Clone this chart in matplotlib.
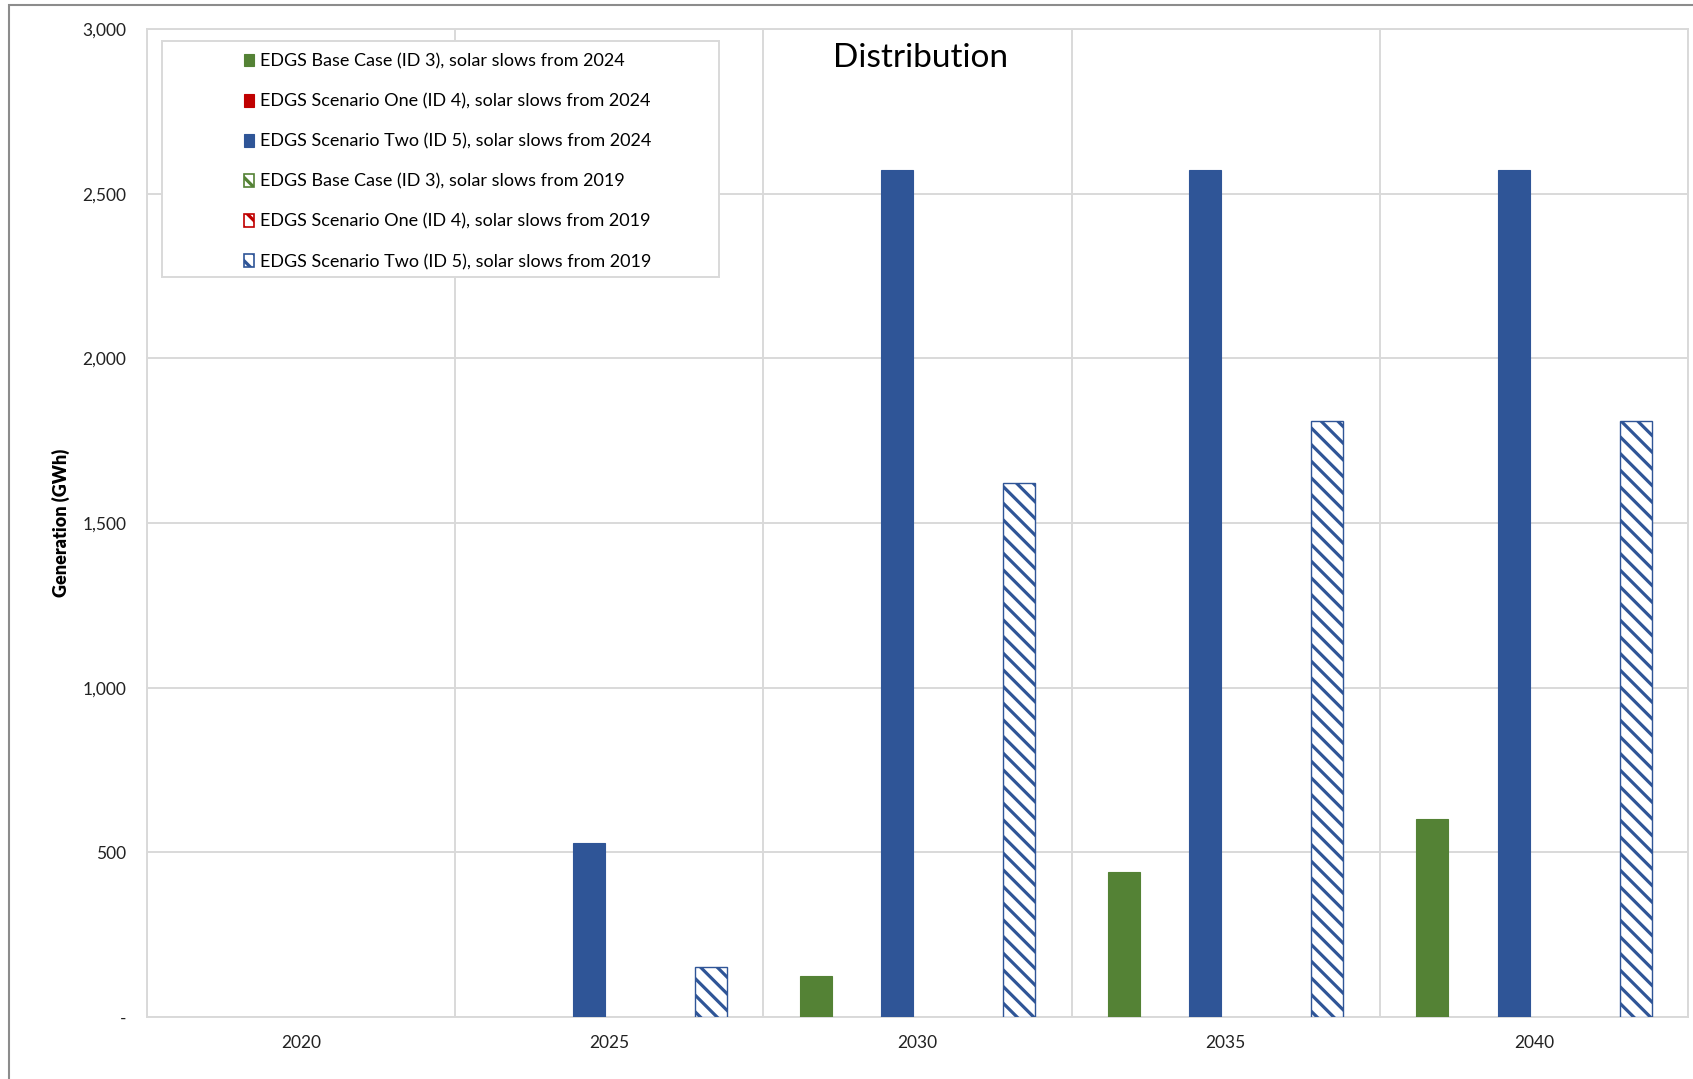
import matplotlib.pyplot as plt
from matplotlib.patches import Rectangle
from matplotlib.ticker import FuncFormatter
import numpy as np

plt.rcParams['font.family'] = ['Lato', 'DejaVu Sans']
plt.rcParams['hatch.linewidth'] = 2.3

anni = ['2020', '2025', '2030', '2035', '2040']
serie = [
    'EDGS Base Case (ID 3), solar slows from 2024',
    'EDGS Scenario One (ID 4), solar slows from 2024',
    'EDGS Scenario Two (ID 5), solar slows from 2024',
    'EDGS Base Case (ID 3), solar slows from 2019',
    'EDGS Scenario One (ID 4), solar slows from 2019',
    'EDGS Scenario Two (ID 5), solar slows from 2019',
]
base_2024 = [0, 0, 125, 440, 602]
uno_2024 = [0, 0, 0, 0, 0]
due_2024 = [0, 528, 2572, 2572, 2572]
base_2019 = [0, 0, 0, 0, 0]
uno_2019 = [0, 0, 0, 0, 0]
due_2019 = [0, 153, 1621, 1810, 1810]
valori = [base_2024, uno_2024, due_2024, base_2019, uno_2019, due_2019]

colori = ['#548235', '#C00000', '#2F5597', '#548235', '#C00000', '#2F5597']
tratteggio = [None, None, None, '\\\\', '\\\\', '\\\\']

W, H = 1693, 1079
fig = plt.figure(figsize=(W / 100, H / 100), dpi=100)
ax = fig.add_axes([147 / W, 1 - 1017 / H, (1688 - 147) / W, (1017 - 29) / H])

x = np.arange(len(anni))
larghezza = 0.104
passo = 0.132
barre = []
for i, (v, c, h) in enumerate(zip(valori, colori, tratteggio)):
    pos = x + (i - 2.5) * passo
    # le barre a zero non si disegnano (niente bordo sulla linea di base)
    bordi = [c if val > 0 else 'none' for val in v]
    if h is None:
        b = ax.bar(pos, v, larghezza, color=c, edgecolor=bordi, linewidth=0.8,
                   label=serie[i], zorder=3)
    else:
        b = ax.bar(pos, v, larghezza, facecolor='white', edgecolor=bordi, hatch=h,
                   linewidth=1.0, label=serie[i], zorder=3)
    barre.append(b)

ax.set_xlim(-0.5, len(anni) - 0.5)
ax.set_ylim(0, 3000)
ax.set_yticks(np.arange(0, 3001, 500))
ax.yaxis.set_major_formatter(FuncFormatter(lambda v, p: '-' if v == 0 else f'{v:,.0f}'))
ax.set_xticks(x)
ax.set_xticklabels(anni)
ax.set_xticks(np.arange(-0.5, len(anni), 1), minor=True)
ax.grid(True, axis='y', color='#d9d9d9', linewidth=1.4, zorder=0)
ax.grid(True, axis='x', which='minor', color='#d9d9d9', linewidth=1.4, zorder=0)
ax.tick_params(axis='both', which='both', length=0, labelsize=12.5, colors='#222222')
ax.tick_params(axis='x', pad=13)
ax.tick_params(axis='y', pad=15)
for s in ax.spines.values():
    s.set_color('#d9d9d9')
    s.set_linewidth(1.4)

ax.set_ylabel('Generation (GWh)', fontsize=13, fontweight='heavy', labelpad=9)
fig.text(920 / W, 1 - 58 / H, 'Distribution', fontsize=24, ha='center', va='center')

# cornice della legenda
fig.add_artist(Rectangle((162 / W, 1 - 277 / H), (719 - 162) / W, (277 - 41) / H,
                         transform=fig.transFigure, facecolor='white',
                         edgecolor='#d9d9d9', linewidth=1.4, zorder=4))
maniglie = []
for c, h in zip(colori, tratteggio):
    if h is None:
        maniglie.append(Rectangle((0, 0), 1, 1, facecolor=c, edgecolor=c, linewidth=0.8))
    else:
        maniglie.append(Rectangle((0, 0), 1, 1, facecolor='white', edgecolor=c,
                                  hatch=h, linewidth=1.2))
leg = fig.legend(handles=maniglie, labels=serie, loc='upper left',
                 bbox_to_anchor=(228 / W, 1 - 37 / H), frameon=False,
                 fontsize=13, handlelength=0.55, handleheight=0.7,
                 handletextpad=0.35, labelspacing=1.33)
leg.set_zorder(5)

# bordo esterno del grafico
fig.add_artist(Rectangle((9 / W, -0.05), 1.1, 1 - 5 / H + 0.05,
                         transform=fig.transFigure, fill=False,
                         edgecolor='#8c8c8c', linewidth=1.5))

fig.savefig('out.png', dpi=100)
